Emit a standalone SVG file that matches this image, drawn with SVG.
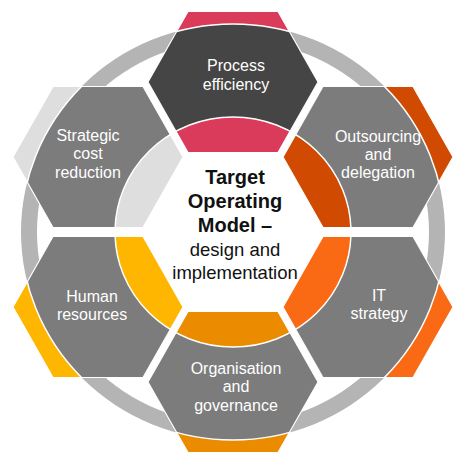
<svg xmlns="http://www.w3.org/2000/svg" xmlns:xlink="http://www.w3.org/1999/xlink" width="474" height="467" viewBox="0 0 474 467">
  <style>
    .lbl { font-family: "Liberation Sans", Arial, Helvetica, sans-serif; font-size: 16px; fill: #ffffff; text-anchor: middle; }
    .ctr { font-family: "Liberation Sans", Arial, Helvetica, sans-serif; fill: #111111; text-anchor: middle; }
    .ctrb { font-size: 20px; font-weight: bold; }
    .ctrr { font-size: 18.5px; }
    .edge { fill: none; stroke: #ffffff; stroke-width: 1.2; }
    .band { stroke: #ffffff; stroke-width: 1.5; fill-rule: evenodd; }
  </style>
  <defs>
    <polygon id="hex" points="-45,-70.5 45,-70.5 85,0 45,70.5 -45,70.5 -85,0"/>
    <clipPath id="hexclip">
      <polygon points="-45,-70.5 45,-70.5 85,0 45,70.5 -45,70.5 -85,0"/>
    </clipPath>
    <path id="band" d="M21,232 a212,208 0 1,0 424,0 a212,208 0 1,0 -424,0 Z M115,232 a118,115 0 1,0 236,0 a118,115 0 1,0 -236,0 Z"/>
  </defs>
  <rect width="474" height="467" fill="#ffffff"/>

  <g id="connectors">
    <path d="M21,232 a212,208 0 1,0 424,0 a212,208 0 1,0 -424,0 Z M37,232 a196,192 0 1,0 392,0 a196,192 0 1,0 -392,0 Z" fill="#b4b4b4" fill-rule="evenodd"/>
  </g>

  <g id="process-efficiency" transform="translate(233,82)">
    <use href="#hex" fill="#db3b5a"/>
    <g clip-path="url(#hexclip)"><use href="#band" class="band" fill="#454545" transform="translate(-233,-82)"/></g>
    <use href="#hex" class="edge"/>
    <text class="lbl" x="3" y="-11">Process</text>
    <text class="lbl" x="3" y="8">efficiency</text>
  </g>

  <g id="outsourcing-delegation" transform="translate(368,157)">
    <use href="#hex" fill="#d04a02"/>
    <g clip-path="url(#hexclip)"><use href="#band" class="band" fill="#7c7c7c" transform="translate(-368,-157)"/></g>
    <use href="#hex" class="edge"/>
    <text class="lbl" x="10" y="-15">Outsourcing</text>
    <text class="lbl" x="10" y="3">and</text>
    <text class="lbl" x="10" y="21">delegation</text>
  </g>

  <g id="it-strategy" transform="translate(368,307)">
    <use href="#hex" fill="#fa6a14"/>
    <g clip-path="url(#hexclip)"><use href="#band" class="band" fill="#7c7c7c" transform="translate(-368,-307)"/></g>
    <use href="#hex" class="edge"/>
    <text class="lbl" x="11" y="-6">IT</text>
    <text class="lbl" x="11" y="12">strategy</text>
  </g>

  <g id="organisation-governance" transform="translate(233,382)">
    <use href="#hex" fill="#eb8c00"/>
    <g clip-path="url(#hexclip)"><use href="#band" class="band" fill="#7c7c7c" transform="translate(-233,-382)"/></g>
    <use href="#hex" class="edge"/>
    <text class="lbl" x="3" y="-8">Organisation</text>
    <text class="lbl" x="3" y="10">and</text>
    <text class="lbl" x="3" y="29">governance</text>
  </g>

  <g id="human-resources" transform="translate(98,307)">
    <use href="#hex" fill="#ffb600"/>
    <g clip-path="url(#hexclip)"><use href="#band" class="band" fill="#7c7c7c" transform="translate(-98,-307)"/></g>
    <use href="#hex" class="edge"/>
    <text class="lbl" x="-6" y="-5">Human</text>
    <text class="lbl" x="-6" y="13">resources</text>
  </g>

  <g id="strategic-cost-reduction" transform="translate(98,157)">
    <use href="#hex" fill="#dedede"/>
    <g clip-path="url(#hexclip)"><use href="#band" class="band" fill="#7c7c7c" transform="translate(-98,-157)"/></g>
    <use href="#hex" class="edge"/>
    <text class="lbl" x="-10" y="-16">Strategic</text>
    <text class="lbl" x="-10" y="2">cost</text>
    <text class="lbl" x="-10" y="21">reduction</text>
  </g>

  <g id="target-operating-model">
    <text class="ctr ctrb" x="235" y="184">Target</text>
    <text class="ctr ctrb" x="235" y="208">Operating</text>
    <text class="ctr ctrb" x="235" y="232">Model –</text>
    <text class="ctr ctrr" x="235" y="256">design and</text>
    <text class="ctr ctrr" x="235" y="279">implementation</text>
  </g>
</svg>
